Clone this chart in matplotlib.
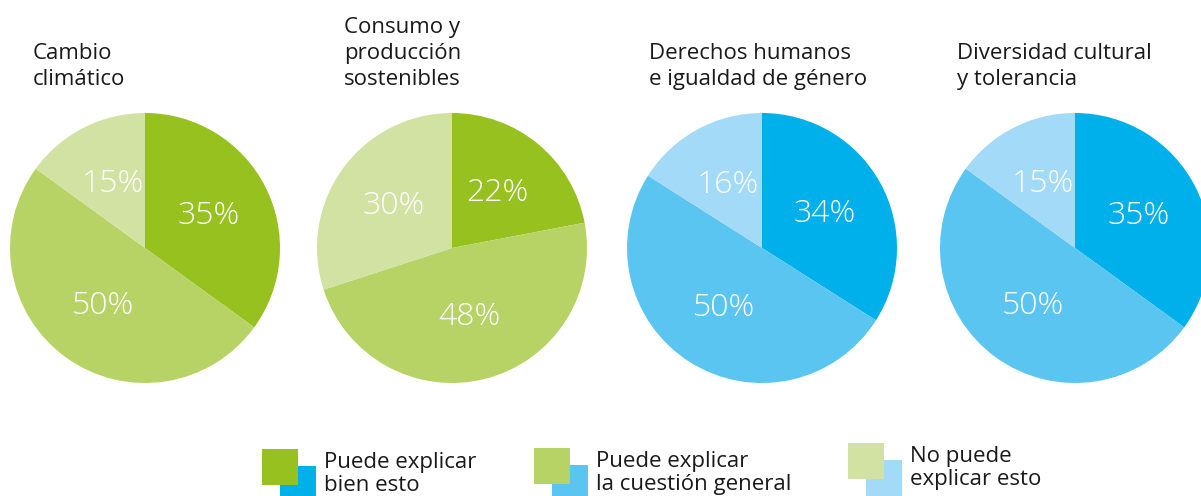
import matplotlib.pyplot as plt
from matplotlib.patches import Rectangle

plt.rcParams['font.family'] = ['Open Sans', 'DejaVu Sans']

titles = ["Cambio\nclimático", "Consumo y\nproducción\nsostenibles",
          "Derechos humanos\ne igualdad de género", "Diversidad cultural\ny tolerancia"]
values = [[35, 50, 15], [22, 48, 30], [34, 50, 16], [35, 50, 15]]
greens = ["#97c11f", "#b7d365", "#d2e2a2"]
blues = ["#00b0eb", "#5bc5f2", "#a2daf7"]
pie_colors = [greens, greens, blues, blues]
legend_labels = ["Puede explicar\nbien esto", "Puede explicar\nla cuestión general",
                 "No puede\nexplicar esto"]

# layout, in pixels of the 1201x496 picture (y measured from the top)
W, H = 1201, 496
centers_x = [145, 452, 762, 1075]
center_y = 248
radius = 135
title_x = [33, 344, 649, 957]
title_bottom = 90
leg_x = [262, 534, 848]
leg_y = [449, 448, 443]
sq = 36

fig = plt.figure(figsize=(W / 100, H / 100), dpi=100)
ax = fig.add_axes([0, 0, 1, 1])

for i in range(4):
    ax.pie(values[i], colors=pie_colors[i], startangle=90, counterclock=False,
           center=(centers_x[i], H - center_y), radius=radius,
           autopct='%d%%', pctdistance=0.53,
           textprops=dict(color='white', fontsize=23, fontweight='light'),
           wedgeprops=dict(linewidth=0))
    ax.text(title_x[i], H - title_bottom, titles[i], fontsize=16, color='#1a1a1a',
            ha='left', va='bottom', linespacing=1.3)

for j in range(3):
    x, y = leg_x[j], leg_y[j]
    ax.add_patch(Rectangle((x + 18, H - (y + 17) - sq), sq, sq, color=blues[j], lw=0))
    ax.add_patch(Rectangle((x, H - y - sq), sq, sq, color=greens[j], lw=0))
    ax.text(x + 62, H - (y + 25), legend_labels[j], fontsize=16, color='#1a1a1a',
            ha='left', va='center', linespacing=1.15)

ax.set_xlim(0, W)
ax.set_ylim(0, H)
ax.set_aspect('equal')
ax.axis('off')

fig.savefig('out.png', dpi=100)
